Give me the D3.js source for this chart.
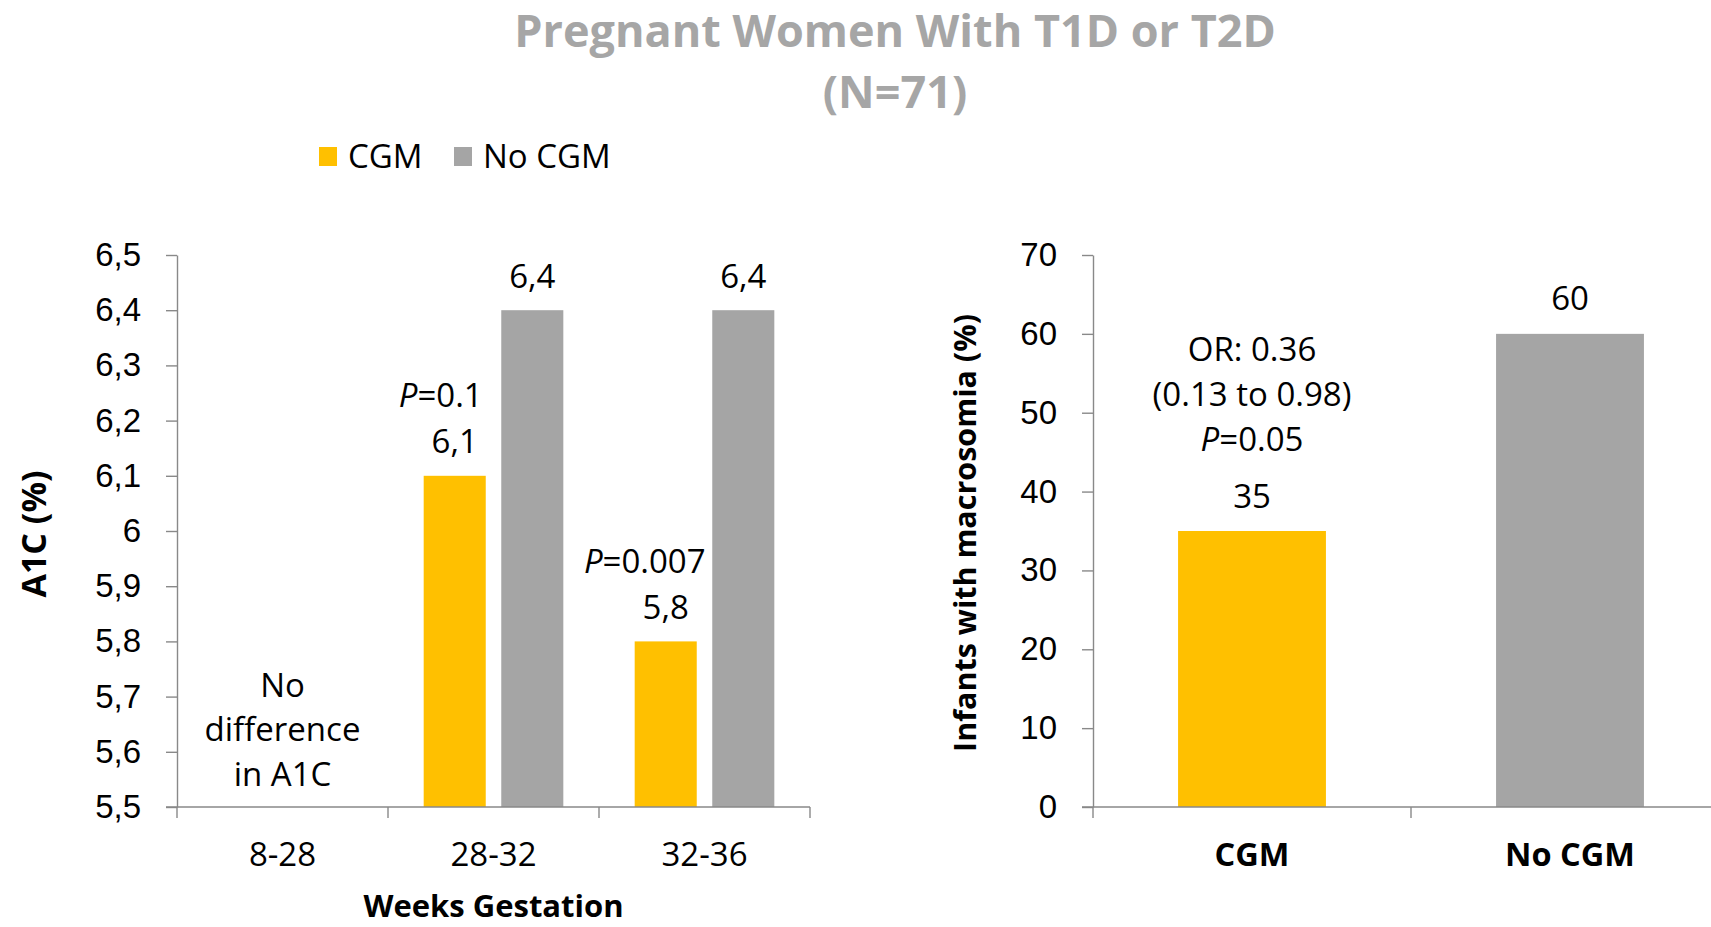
<!DOCTYPE html>
<html>
<head>
  <meta charset="utf-8">
  <title>Pregnant Women With T1D or T2D</title>
  <style>
    body { margin: 0; padding: 0; background: white; }
    svg { display: block; font-family: "Open Sans", sans-serif; }
    .axis path, .axis line { stroke: #898989; stroke-width: 1.4; }
    .axis text { font-size: 33px; fill: black; }
    .label { font-size: 33px; fill: black; text-anchor: middle; }
    .title { font-size: 45px; font-weight: bold; fill: #a6a6a6; text-anchor: middle; }
    .axis-title { font-weight: bold; fill: black; text-anchor: middle; }
  </style>
</head>
<body>
  <div id="chart"></div>
  <script src="https://d3js.org/d3.v7.min.js"></script>
  <script>

  // data
  var titleLines = ["Pregnant Women With T1D or T2D", "(N=71)"]
  var seriesNames = ["CGM", "No CGM"]

  var weekGroups = ["8-28", "28-32", "32-36"]
  var a1cCGM = [null, 6.1, 5.8]
  var a1cNoCGM = [null, 6.4, 6.4]
  var a1cPValues = [null, "0.1", "0.007"]
  var a1cTicks = [5.5, 5.6, 5.7, 5.8, 5.9, 6.0, 6.1, 6.2, 6.3, 6.4, 6.5]
  var noDiffNote = ["No", "difference", "in A1C"]

  var macroGroups = ["CGM", "No CGM"]
  var macroValues = [35, 60]
  var macroTicks = [0, 10, 20, 30, 40, 50, 60, 70]
  var macroNote = ["OR: 0.36", "(0.13 to 0.98)"]
  var macroP = "0.05"

  // P labels in the original sit a little left of the bar centre
  var pLabelShift = [0, -14, -21]

  var width = 1711,
      height = 927

  var color = d3.scaleOrdinal()
      .domain(seriesNames)
      .range(["#ffc000", "#a5a5a5"])

  // decimal comma, like the original
  var locale = d3.formatLocale({decimal: ",", thousands: ".", grouping: [3], currency: ["", ""]})
  var fmt = locale.format(".1~f")

  var svg = d3.select("#chart")
      .append("svg")
      .attr("width", width)
      .attr("height", height)

  // title
  svg.selectAll(".title")
      .data(titleLines)
      .enter().append("text")
      .attr("class", "title")
      .attr("x", 895)
      .attr("y", function (d, i) { return 31 + i * 61 })
      .attr("dy", "0.35em")
      .text(function (d) { return d })

  // legend
  var legend = svg.append("g")
      .selectAll("g")
      .data(seriesNames)
      .enter().append("g")
      .attr("transform", function (d, i) { return "translate(" + (319 + i * 135) + ",147)" })

  legend.append("rect")
      .attr("width", 18)
      .attr("height", 19)
      .attr("fill", function (d) { return color(d) })

  legend.append("text")
      .attr("class", "label")
      .style("text-anchor", "start")
      .attr("x", 29)
      .attr("y", 9)
      .attr("dy", "0.35em")
      .text(function (d) { return d })

  // ---------- left chart: A1C by weeks of gestation ----------
  var y1 = d3.scaleLinear()
      .domain([5.5, 6.5])
      .range([807, 255])

  var x0 = d3.scaleBand()
      .domain(weekGroups)
      .range([177, 810])

  var x1 = d3.scaleBand()
      .domain(seriesNames)
      .range([0, x0.bandwidth()])
      .paddingInner(0.2)
      .paddingOuter(0.46)

  svg.append("g")
      .attr("class", "axis")
      .attr("transform", "translate(177,0)")
      .call(d3.axisLeft(y1).tickValues(a1cTicks).tickFormat(fmt).tickSize(11).tickPadding(25).tickSizeOuter(0))

  var rows = weekGroups.map(function (g, i) {
    return {group: g, values: [a1cCGM[i], a1cNoCGM[i]], p: a1cPValues[i], shift: pLabelShift[i]}
  })

  var groups = svg.append("g")
      .selectAll("g")
      .data(rows)
      .enter().append("g")
      .attr("transform", function (d) { return "translate(" + x0(d.group) + ",0)" })

  function barsOf(d) {
    return seriesNames.map(function (s, j) { return {key: s, value: d.values[j]} })
      .filter(function (e) { return e.value != null })
  }

  groups.selectAll("rect")
      .data(barsOf)
      .enter().append("rect")
      .attr("x", function (d) { return x1(d.key) })
      .attr("width", x1.bandwidth())
      .attr("y", function (d) { return y1(d.value) })
      .attr("height", function (d) { return y1(5.5) - y1(d.value) })
      .attr("fill", function (d) { return color(d.key) })

  groups.selectAll(".value")
      .data(barsOf)
      .enter().append("text")
      .attr("class", "label value")
      .attr("x", function (d) { return x1(d.key) + x1.bandwidth() / 2 })
      .attr("y", function (d) { return y1(d.value) - 34 })
      .attr("dy", "0.35em")
      .text(function (d) { return fmt(d.value) })

  var pText = groups.filter(function (d) { return d.p != null })
      .append("text")
      .attr("class", "label")
      .attr("x", function (d) { return x1("CGM") + x1.bandwidth() / 2 + d.shift })
      .attr("y", function (d) { return y1(d.values[0]) - 80 })
      .attr("dy", "0.35em")
  pText.append("tspan").style("font-style", "italic").text("P")
  pText.append("tspan").text(function (d) { return "=" + d.p })

  svg.append("g")
      .selectAll("text")
      .data(noDiffNote)
      .enter().append("text")
      .attr("class", "label")
      .attr("x", x0("8-28") + x0.bandwidth() / 2)
      .attr("y", function (d, i) { return 685 + i * 44.5 })
      .attr("dy", "0.35em")
      .text(function (d) { return d })

  // x axis: ticks sit between categories
  var xAxis1 = svg.append("g").attr("class", "axis")
  xAxis1.append("line")
      .attr("x1", x0.range()[0] - 11).attr("x2", x0.range()[1])
      .attr("y1", y1(5.5)).attr("y2", y1(5.5))
  xAxis1.selectAll(".tick")
      .data(weekGroups.map(function (g) { return x0(g) }).concat([x0.range()[1]]))
      .enter().append("line")
      .attr("x1", function (d) { return d }).attr("x2", function (d) { return d })
      .attr("y1", y1(5.5)).attr("y2", y1(5.5) + 11)
  xAxis1.selectAll("text")
      .data(weekGroups)
      .enter().append("text")
      .attr("x", function (d) { return x0(d) + x0.bandwidth() / 2 })
      .attr("y", 854)
      .attr("dy", "0.35em")
      .style("text-anchor", "middle")
      .text(function (d) { return d })

  svg.append("text")
      .attr("class", "axis-title")
      .style("font-size", "31px")
      .attr("x", (x0.range()[0] + x0.range()[1]) / 2)
      .attr("y", 906)
      .attr("dy", "0.35em")
      .text("Weeks Gestation")

  svg.append("text")
      .attr("class", "axis-title")
      .style("font-size", "34px")
      .attr("transform", "translate(34,534) rotate(-90)")
      .attr("dy", "0.35em")
      .text("A1C (%)")

  // ---------- right chart: infants with macrosomia ----------
  var y2 = d3.scaleLinear()
      .domain([0, 70])
      .range([807, 255])

  var x2 = d3.scaleBand()
      .domain(macroGroups)
      .range([1093, 1729])
      .paddingInner(0.535)
      .paddingOuter(0.2675)

  svg.append("g")
      .attr("class", "axis")
      .attr("transform", "translate(1093,0)")
      .call(d3.axisLeft(y2).tickValues(macroTicks).tickSize(11).tickPadding(25).tickSizeOuter(0))

  svg.append("g")
      .selectAll("rect")
      .data(macroGroups)
      .enter().append("rect")
      .attr("x", function (d) { return x2(d) })
      .attr("width", x2.bandwidth())
      .attr("y", function (d, i) { return y2(macroValues[i]) })
      .attr("height", function (d, i) { return y2(0) - y2(macroValues[i]) })
      .attr("fill", function (d) { return color(d) })

  svg.append("g")
      .selectAll("text")
      .data(macroGroups)
      .enter().append("text")
      .attr("class", "label")
      .attr("x", function (d) { return x2(d) + x2.bandwidth() / 2 })
      .attr("y", function (d, i) { return y2(macroValues[i]) - 35 })
      .attr("dy", "0.35em")
      .text(function (d, i) { return macroValues[i] })

  var cgmTop = y2(macroValues[0]) - 35
  svg.append("g")
      .selectAll("text")
      .data(macroNote)
      .enter().append("text")
      .attr("class", "label")
      .attr("x", x2("CGM") + x2.bandwidth() / 2)
      .attr("y", function (d, i) { return cgmTop - 57 - (macroNote.length - i) * 45 })
      .attr("dy", "0.35em")
      .text(function (d) { return d })

  var pRight = svg.append("text")
      .attr("class", "label")
      .attr("x", x2("CGM") + x2.bandwidth() / 2)
      .attr("y", cgmTop - 57)
      .attr("dy", "0.35em")
  pRight.append("tspan").style("font-style", "italic").text("P")
  pRight.append("tspan").text("=" + macroP)

  var xAxis2 = svg.append("g").attr("class", "axis")
  xAxis2.append("line")
      .attr("x1", x2.range()[0] - 11).attr("x2", x2.range()[1])
      .attr("y1", y2(0)).attr("y2", y2(0))
  xAxis2.selectAll(".tick")
      .data(macroGroups.map(function (g) { return x2(g) - x2.step() * x2.paddingInner() / 2 }))
      .enter().append("line")
      .attr("x1", function (d) { return d }).attr("x2", function (d) { return d })
      .attr("y1", y2(0)).attr("y2", y2(0) + 11)
  xAxis2.selectAll("text")
      .data(macroGroups)
      .enter().append("text")
      .attr("x", function (d) { return x2(d) + x2.bandwidth() / 2 })
      .attr("y", 855)
      .attr("dy", "0.35em")
      .style("text-anchor", "middle")
      .style("font-weight", "bold")
      .style("font-size", "32.5px")
      .text(function (d) { return d })

  svg.append("text")
      .attr("class", "axis-title")
      .style("font-size", "30.5px")
      .attr("transform", "translate(965,533) rotate(-90)")
      .attr("dy", "0.35em")
      .text("Infants with macrosomia (%)")

  </script>
</body>
</html>
